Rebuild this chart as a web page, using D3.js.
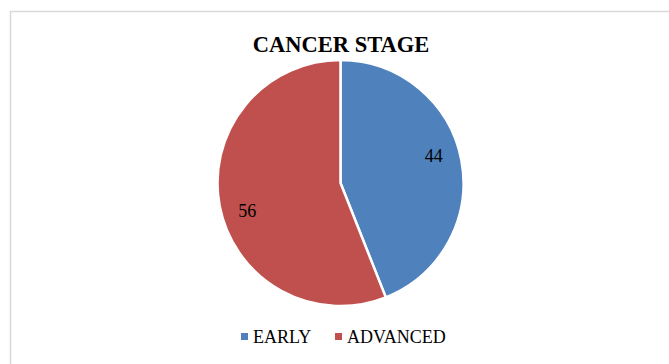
<!DOCTYPE html>
<html>
<head>
<meta charset="utf-8">
<script src="https://cdn.jsdelivr.net/npm/d3@7"></script>
<style>
  html, body { margin: 0; padding: 0; background: #fff; }
  svg { display: block; }
</style>
</head>
<body>
<svg id="chart" width="669" height="364"></svg>
<script>
// Cancer stage distribution
const categories = ["EARLY", "ADVANCED"];
const values = [44, 56];
const colors = ["#4F81BD", "#C0504D"];
const title = "CANCER STAGE";

const svg = d3.select("#chart");
const W = 669, H = 364;

// chart area frame
svg.append("rect")
  .attr("x", 10.5).attr("y", 11.5)
  .attr("width", W + 20).attr("height", H + 20)
  .attr("fill", "#fff")
  .attr("stroke", "#d9d9d9")
  .attr("stroke-width", 1.5);

// title
svg.append("text")
  .attr("x", 341).attr("y", 52)
  .attr("text-anchor", "middle")
  .attr("font-family", "'Liberation Serif', 'Times New Roman', serif")
  .attr("font-weight", "bold")
  .attr("font-size", 22.5)
  .attr("fill", "#000")
  .text(title);

const cx = 340.5, cy = 183, R = 123;
const color = d3.scaleOrdinal().domain(categories).range(colors);

const pie = d3.pie().sort(null).value(d => d.value);
const data = categories.map((c, i) => ({ category: c, value: values[i] }));
const arcs = pie(data);

const arc = d3.arc().innerRadius(0).outerRadius(R);
const g = svg.append("g").attr("transform", `translate(${cx},${cy})`);

g.selectAll("path")
  .data(arcs)
  .join("path")
  .attr("d", arc)
  .attr("fill", d => color(d.data.category))
  .attr("stroke", "#fff")
  .attr("stroke-width", 2.5)
  .attr("stroke-linejoin", "miter");

// value labels inside slices
const labelArc = d3.arc().innerRadius(R * 0.58).outerRadius(R * 1.0);
const shift = -5.5 * Math.PI / 180;
g.selectAll("text.value")
  .data(arcs)
  .join("text")
  .attr("class", "value")
  .attr("transform", d => {
    const p = labelArc.centroid({ ...d, startAngle: d.startAngle + shift, endAngle: d.endAngle + shift });
    return `translate(${p[0]},${p[1]})`;
  })
  .attr("text-anchor", "middle")
  .attr("dy", "0.35em")
  .attr("font-family", "'Liberation Serif', 'Times New Roman', serif")
  .attr("font-size", 18)
  .attr("fill", "#000")
  .text(d => d.data.value);

// legend
const legendY = 337;
const legendItems = [
  { x: 241, cat: categories[0] },
  { x: 335, cat: categories[1] }
];
const lg = svg.append("g");
legendItems.forEach(it => {
  lg.append("rect")
    .attr("x", it.x).attr("y", legendY - 4)
    .attr("width", 7).attr("height", 7)
    .attr("fill", color(it.cat));
  lg.append("text")
    .attr("x", it.x + 12).attr("y", legendY + 6)
    .attr("font-family", "'Liberation Serif', 'Times New Roman', serif")
    .attr("font-size", 18)
    .attr("fill", "#000")
    .text(it.cat);
});
</script>
</body>
</html>
